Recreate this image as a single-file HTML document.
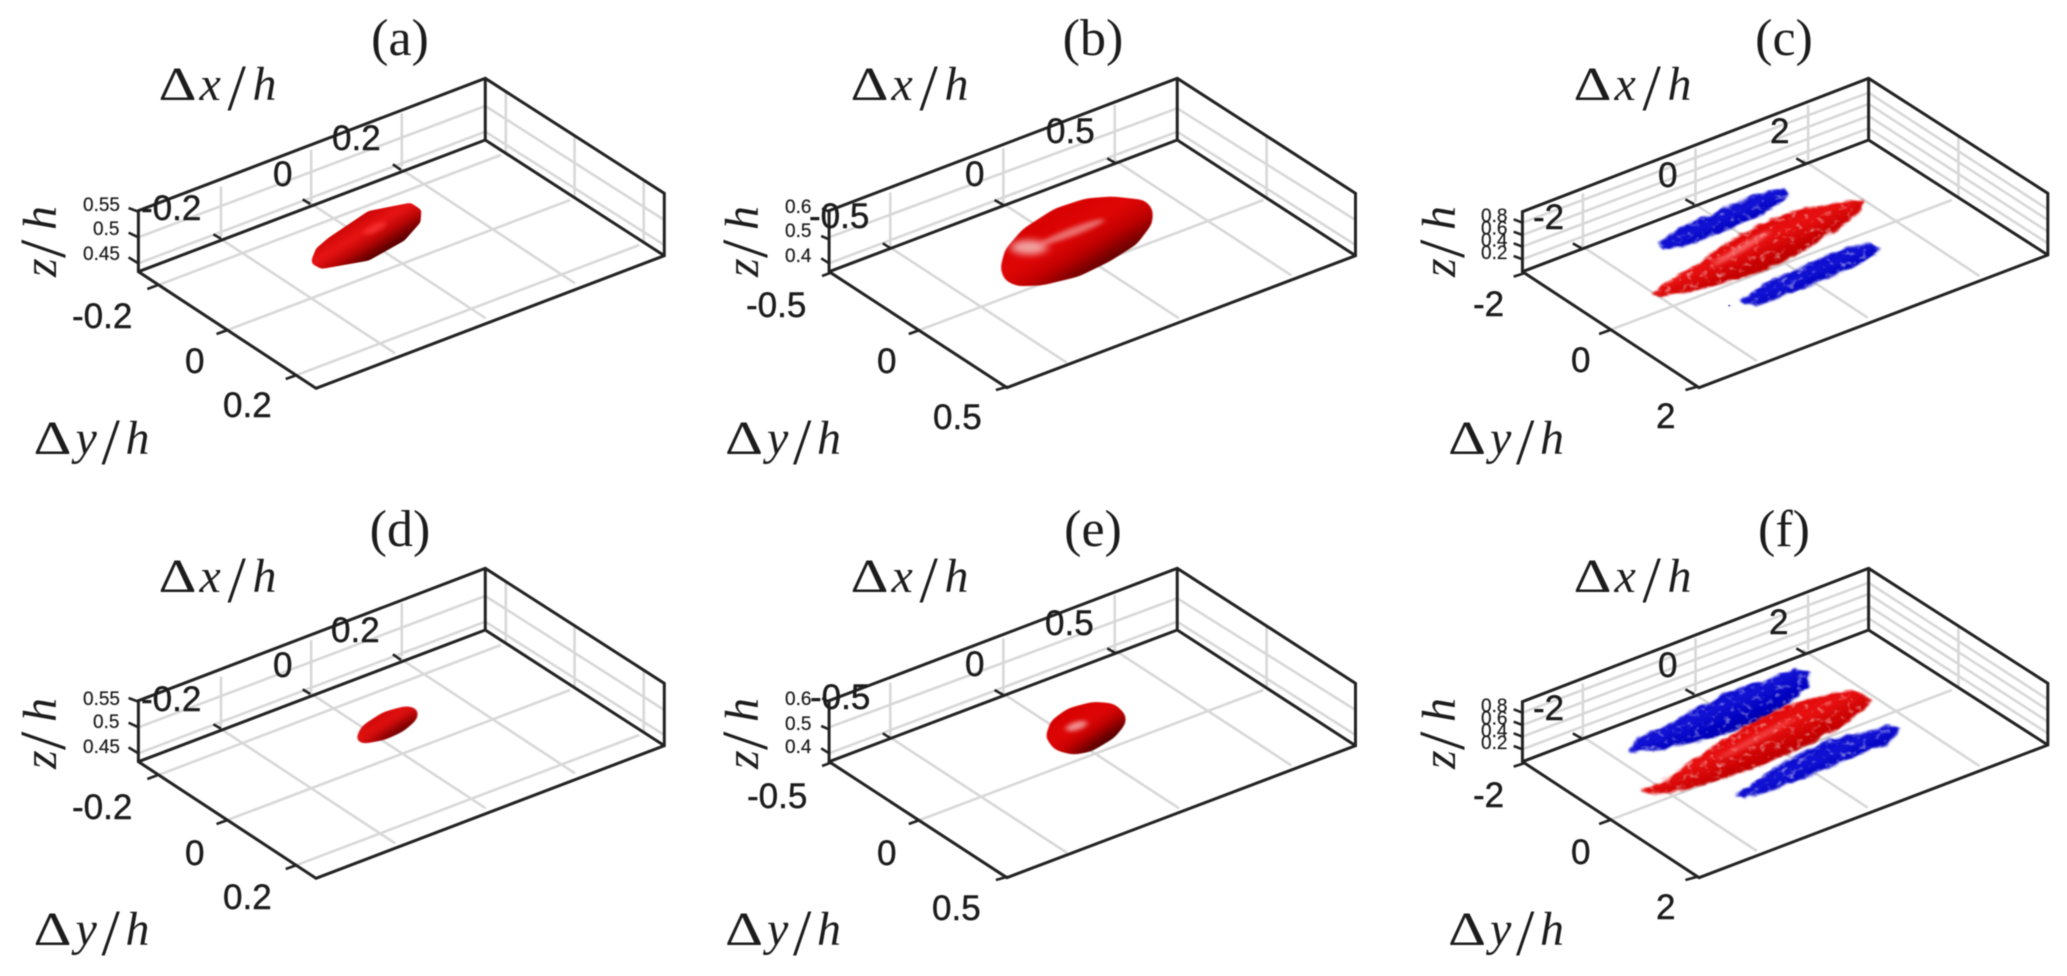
<!DOCTYPE html>
<html>
<head>
<meta charset="utf-8">
<style>
html,body{margin:0;padding:0;background:#fff;}
svg{display:block;filter:blur(0.45px);}
.f{fill:none;stroke:#222;stroke-width:3;vector-effect:non-scaling-stroke;stroke-linejoin:miter;}
.g{fill:none;stroke:#d8d8d8;stroke-width:2.6;vector-effect:non-scaling-stroke;}
.t{fill:none;stroke:#222;stroke-width:2.6;vector-effect:non-scaling-stroke;}
text{fill:#1c1c1c;}
.n{font-family:"Liberation Sans",sans-serif;font-size:35px;stroke:#1c1c1c;stroke-width:.45px;}
.s{font-family:"Liberation Sans",sans-serif;font-size:19px;stroke:#1c1c1c;stroke-width:.2px;}
.c{font-family:"Liberation Serif",serif;font-size:52px;text-anchor:middle;}
.m{font-family:"Liberation Serif",serif;font-size:48px;font-style:italic;}
.m .b{font-size:66px;font-style:normal;}
.d{font-family:"Liberation Serif",serif;font-size:48px;}
</style>
</head>
<body>
<svg width="2067" height="976" viewBox="0 0 2067 976" xmlns="http://www.w3.org/2000/svg">
<defs>
<linearGradient id="r1" x1="0" y1="0" x2="1" y2="1">
<stop offset="0.28" stop-color="#c40000"/><stop offset="0.46" stop-color="#e81414"/><stop offset="0.56" stop-color="#c00606"/><stop offset="0.66" stop-color="#700000"/><stop offset="0.76" stop-color="#300000"/>
</linearGradient>
<linearGradient id="r2" x1="0" y1="0" x2="1" y2="1">
<stop offset="0.2" stop-color="#d40000"/><stop offset="0.45" stop-color="#e00606"/><stop offset="0.58" stop-color="#c00000"/><stop offset="0.68" stop-color="#780000"/><stop offset="0.77" stop-color="#380000"/>
</linearGradient>
<linearGradient id="r3" x1="0" y1="0" x2="1" y2="1">
<stop offset="0.3" stop-color="#d80000"/><stop offset="0.47" stop-color="#e81010"/><stop offset="0.58" stop-color="#c80000"/><stop offset="0.72" stop-color="#a00000"/>
</linearGradient>
<linearGradient id="b3" x1="0" y1="0" x2="1" y2="1">
<stop offset="0.3" stop-color="#0000c8"/><stop offset="0.48" stop-color="#1212d4"/><stop offset="0.6" stop-color="#0000c0"/><stop offset="0.75" stop-color="#00008c"/>
</linearGradient>
<filter id="sm" x="-10%" y="-10%" width="120%" height="120%" color-interpolation-filters="sRGB"><feGaussianBlur stdDeviation="5"/><feComponentTransfer><feFuncA type="linear" slope="5" intercept="-2"/></feComponentTransfer></filter>
<filter id="sm2" x="-15%" y="-15%" width="130%" height="130%" color-interpolation-filters="sRGB"><feGaussianBlur stdDeviation="11"/><feComponentTransfer><feFuncA type="linear" slope="7" intercept="-3"/></feComponentTransfer></filter>
<filter id="rough" x="-10%" y="-10%" width="120%" height="120%" color-interpolation-filters="sRGB">
<feGaussianBlur in="SourceGraphic" stdDeviation="3" result="s"/>
<feTurbulence type="fractalNoise" baseFrequency="0.035" numOctaves="2" seed="4" result="w"/>
<feDisplacementMap in="s" in2="w" scale="16" xChannelSelector="R" yChannelSelector="G" result="d"/>
<feTurbulence type="fractalNoise" baseFrequency="0.06" numOctaves="2" seed="9" result="n"/>
<feColorMatrix in="n" type="matrix" values="0 0 0 0 1  0 0 0 0 1  0 0 0 0 1  1.5 0 0 0 -0.82" result="sp"/>
<feComposite in="sp" in2="d" operator="in" result="spc"/>
<feMerge><feMergeNode in="d"/><feMergeNode in="spc"/></feMerge>
</filter>
<filter id="hl" x="-50%" y="-50%" width="200%" height="200%"><feGaussianBlur stdDeviation="10"/></filter>
<filter id="hs" x="-50%" y="-50%" width="200%" height="200%"><feGaussianBlur stdDeviation="6"/></filter>

<g id="colA">
<path class="g" d="M487 710L885 1060M690 605L1088 955M890 500L1288 850M345 860L1122 465M500 995L1277 600M655 1130L1432 735M495 560V710M697 450V605M900 340V500M310 712L1087 318M310 790L1087 395M1087 318L1488 660M1087 395L1488 735M1133 275V458M1287 408V592M1442 540V725"/>
<path class="t" d="M478 703L495 716M678 598L695 612M880 493L898 510M330 867L352 856M485 1002L510 990M640 1137L665 1125M288 624L310 635M288 698L310 712M288 772L310 790"/>
<path class="f" d="M310 632L1087 235L1488 580V767L708 1165L310 815ZM310 815L1087 420L1488 767M1087 235V420"/>
</g>
<g id="colB">
<path class="g" d="M452 740L856 1088M707 607L1111 955M962 478L1366 826M512 995L1303 600M455 578V740M712 445V607M965 315V478M316 712L1107 325M316 790L1107 395M1107 325L1512 660M1107 395L1512 735M1310 408V592"/>
<path class="t" d="M438 730L456 745M692 600L712 615M948 475L968 490M497 1002L522 990M695 1170L722 1160M300 828L320 818M300 625L316 635M298 708L316 718M298 775L316 790"/>
<path class="f" d="M316 632L1107 235L1512 580V767L720 1163L316 815ZM316 815L1107 420L1512 767M1107 235V420"/>
</g>
<g id="colC">
<path class="g" d="M457 735L860 1083M710 605L1113 953M965 480L1368 828M515 995L1305 600M463 580V735M720 445V605M977 315V480M325 668L1115 278M325 705L1115 312M325 740L1115 348M325 778L1115 385M1115 278L1524 628M1115 312L1524 660M1115 348L1524 695M1115 385L1524 730M1320 410V592"/>
<path class="t" d="M440 730L460 745M697 598L717 613M950 475L970 490M500 1002L525 990M697 1170L725 1160M305 830L328 820M305 658L325 668M305 695L325 705M305 730L325 740M305 768L325 778"/>
<path class="f" d="M325 635L1115 235L1524 580V765L728 1163L325 815ZM325 815L1115 420L1524 765M1115 235V420"/>
</g>
</defs>
<rect width="2067" height="976" fill="#fff"/>

<!-- panel a -->
<g transform="translate(0,0) scale(0.44643,0.33333)">
<use href="#colA"/>
<polygon filter="url(#sm)" fill="url(#r1)" points="698,778 708,745 735,714 825,633 920,608 944,630 942,667 906,722 826,782 720,807 699,792"/>
<ellipse cx="840" cy="685" rx="30" ry="10" fill="#ff3a3a" opacity=".7" filter="url(#hs)" transform="rotate(-35 840 685)"/>
</g>
<!-- panel b -->
<g transform="translate(690,0) scale(0.44014,0.33333)">
<use href="#colB"/>
<polygon filter="url(#sm2)" fill="url(#r2)" points="705,803 716,748 756,687 828,626 899,595 960,589 1034,600 1052,629 1050,672 1015,733 953,785 883,830 801,856 743,859 714,840"/>
<ellipse cx="770" cy="742" rx="42" ry="22" fill="#fff" opacity=".62" filter="url(#hl)"/>
<ellipse cx="870" cy="695" rx="80" ry="12" fill="#fff" opacity=".42" filter="url(#hs)" transform="rotate(-27 870 695)"/>
</g>
<!-- panel c -->
<g transform="translate(1380,0) scale(0.43821,0.33333)">
<use href="#colC"/>
<polygon filter="url(#rough)" fill="url(#b3)" points="638,728 678,685 760,640 830,600 890,570 928,565 935,587 915,607 860,652 790,692 720,727 660,750 645,745"/>
<polygon filter="url(#rough)" fill="url(#b3)" points="820,902 850,875 880,850 960,800 1050,750 1110,730 1142,745 1132,767 1080,802 1000,847 920,887 860,917 835,914"/>
<polygon filter="url(#rough)" fill="url(#r3)" points="618,882 660,845 730,785 800,720 880,665 960,625 1040,608 1102,601 1097,635 1060,672 1000,727 920,787 830,832 750,862 640,890"/>
<ellipse cx="825" cy="745" rx="85" ry="8" fill="#ff9090" opacity=".7" filter="url(#hs)" transform="rotate(-38 825 745)"/>
<rect x="795" y="915" width="4" height="4" fill="#2020d0"/>
</g>
<!-- panel d -->
<g transform="translate(0,490) scale(0.44643,0.33333)">
<use href="#colA"/>
<polygon filter="url(#sm2)" fill="url(#r1)" points="796,748 810,708 858,666 910,647 937,655 935,688 904,724 862,750 808,763"/>
</g>
<!-- panel e -->
<g transform="translate(690,490) scale(0.44014,0.33333)">
<use href="#colB"/>
<polygon filter="url(#sm2)" fill="url(#r2)" points="807,741 820,692 858,655 915,635 964,640 990,673 990,702 964,744 912,785 870,795 828,780"/>
<ellipse cx="878" cy="708" rx="26" ry="12" fill="#fff" opacity=".55" filter="url(#hs)" transform="rotate(-25 878 708)"/>
</g>
<!-- panel f -->
<g transform="translate(1380,490) scale(0.43821,0.33333)">
<use href="#colC"/>
<polygon filter="url(#rough)" fill="url(#b3)" points="566,787 585,745 640,715 720,655 800,605 880,570 945,536 980,545 977,590 920,652 850,702 750,747 650,777"/>
<polygon filter="url(#rough)" fill="url(#b3)" points="810,914 850,880 930,810 1030,745 1120,725 1160,703 1187,715 1162,762 1090,797 1000,847 900,897 830,927"/>
<polygon filter="url(#rough)" fill="url(#r3)" points="598,902 650,870 730,795 830,710 930,645 1030,608 1080,603 1122,628 1102,662 1030,727 950,782 850,837 750,882 640,914 610,910"/>
<ellipse cx="860" cy="745" rx="110" ry="8" fill="#ff8080" opacity=".45" filter="url(#hs)" transform="rotate(-35 860 745)"/>
</g>

<!-- titles -->
<text class="c" x="400" y="55">(a)</text>
<text class="c" x="1093" y="55">(b)</text>
<text class="c" x="1784" y="55">(c)</text>
<text class="c" x="400" y="546">(d)</text>
<text class="c" x="1093" y="546">(e)</text>
<text class="c" x="1784" y="546">(f)</text>

<!-- Δx/h -->
<g transform="translate(158.5,100)"><text class="d" textLength="38" lengthAdjust="spacingAndGlyphs">Δ</text><text class="m"><tspan x="41">x</tspan><tspan class="b" x="69" dy="10">/</tspan><tspan x="94" dy="-10">h</tspan></text></g>
<g transform="translate(850.5,100)"><text class="d" textLength="38" lengthAdjust="spacingAndGlyphs">Δ</text><text class="m"><tspan x="41">x</tspan><tspan class="b" x="69" dy="10">/</tspan><tspan x="94" dy="-10">h</tspan></text></g>
<g transform="translate(1573.5,100)"><text class="d" textLength="38" lengthAdjust="spacingAndGlyphs">Δ</text><text class="m"><tspan x="41">x</tspan><tspan class="b" x="69" dy="10">/</tspan><tspan x="94" dy="-10">h</tspan></text></g>
<g transform="translate(158.5,592)"><text class="d" textLength="38" lengthAdjust="spacingAndGlyphs">Δ</text><text class="m"><tspan x="41">x</tspan><tspan class="b" x="69" dy="10">/</tspan><tspan x="94" dy="-10">h</tspan></text></g>
<g transform="translate(850.5,592)"><text class="d" textLength="38" lengthAdjust="spacingAndGlyphs">Δ</text><text class="m"><tspan x="41">x</tspan><tspan class="b" x="69" dy="10">/</tspan><tspan x="94" dy="-10">h</tspan></text></g>
<g transform="translate(1573.5,592)"><text class="d" textLength="38" lengthAdjust="spacingAndGlyphs">Δ</text><text class="m"><tspan x="41">x</tspan><tspan class="b" x="69" dy="10">/</tspan><tspan x="94" dy="-10">h</tspan></text></g>

<!-- Δy/h -->
<g transform="translate(33.5,454)"><text class="d" textLength="38" lengthAdjust="spacingAndGlyphs">Δ</text><text class="m"><tspan x="42">y</tspan><tspan class="b" x="68" dy="10">/</tspan><tspan x="92" dy="-10">h</tspan></text></g>
<g transform="translate(725,454)"><text class="d" textLength="38" lengthAdjust="spacingAndGlyphs">Δ</text><text class="m"><tspan x="42">y</tspan><tspan class="b" x="68" dy="10">/</tspan><tspan x="92" dy="-10">h</tspan></text></g>
<g transform="translate(1448,454)"><text class="d" textLength="38" lengthAdjust="spacingAndGlyphs">Δ</text><text class="m"><tspan x="42">y</tspan><tspan class="b" x="68" dy="10">/</tspan><tspan x="92" dy="-10">h</tspan></text></g>
<g transform="translate(33.5,945)"><text class="d" textLength="38" lengthAdjust="spacingAndGlyphs">Δ</text><text class="m"><tspan x="42">y</tspan><tspan class="b" x="68" dy="10">/</tspan><tspan x="92" dy="-10">h</tspan></text></g>
<g transform="translate(725,945)"><text class="d" textLength="38" lengthAdjust="spacingAndGlyphs">Δ</text><text class="m"><tspan x="42">y</tspan><tspan class="b" x="68" dy="10">/</tspan><tspan x="92" dy="-10">h</tspan></text></g>
<g transform="translate(1448,945)"><text class="d" textLength="38" lengthAdjust="spacingAndGlyphs">Δ</text><text class="m"><tspan x="42">y</tspan><tspan class="b" x="68" dy="10">/</tspan><tspan x="92" dy="-10">h</tspan></text></g>

<!-- z/h -->
<text class="m" transform="translate(56,277) rotate(-90)"><tspan x="0">z</tspan><tspan class="b" x="19" dy="9">/</tspan><tspan x="47" dy="-9">h</tspan></text>
<text class="m" transform="translate(758,277) rotate(-90)"><tspan x="0">z</tspan><tspan class="b" x="19" dy="9">/</tspan><tspan x="47" dy="-9">h</tspan></text>
<text class="m" transform="translate(1455,277) rotate(-90)"><tspan x="0">z</tspan><tspan class="b" x="19" dy="9">/</tspan><tspan x="47" dy="-9">h</tspan></text>
<text class="m" transform="translate(56,769) rotate(-90)"><tspan x="0">z</tspan><tspan class="b" x="19" dy="9">/</tspan><tspan x="47" dy="-9">h</tspan></text>
<text class="m" transform="translate(758,769) rotate(-90)"><tspan x="0">z</tspan><tspan class="b" x="19" dy="9">/</tspan><tspan x="47" dy="-9">h</tspan></text>
<text class="m" transform="translate(1455,769) rotate(-90)"><tspan x="0">z</tspan><tspan class="b" x="19" dy="9">/</tspan><tspan x="47" dy="-9">h</tspan></text>

<!-- tick labels a -->
<text class="n" x="332" y="150">0.2</text><text class="n" x="273" y="186">0</text><text class="n" x="141" y="220">-0.2</text>
<text class="n" x="72" y="328">-0.2</text><text class="n" x="185" y="373">0</text><text class="n" x="223" y="417">0.2</text>
<text class="s" x="83" y="211">0.55</text><text class="s" x="93" y="235">0.5</text><text class="s" x="83" y="260">0.45</text>
<!-- b -->
<text class="n" x="1046" y="143">0.5</text><text class="n" x="965" y="186">0</text><text class="n" x="809" y="228">-0.5</text>
<text class="n" x="746" y="317">-0.5</text><text class="n" x="877" y="373">0</text><text class="n" x="933" y="429">0.5</text>
<text class="s" x="785" y="213">0.6</text><text class="s" x="785" y="237">0.5</text><text class="s" x="785" y="262">0.4</text>
<!-- c -->
<text class="n" x="1770" y="143">2</text><text class="n" x="1658" y="187">0</text><text class="n" x="1533" y="229">-2</text>
<text class="n" x="1473" y="316">-2</text><text class="n" x="1571" y="372">0</text><text class="n" x="1656" y="428">2</text>
<text class="s" x="1481" y="222">0.8</text><text class="s" x="1481" y="234.5">0.6</text><text class="s" x="1481" y="246.5">0.4</text><text class="s" x="1481" y="259">0.2</text>
<!-- d -->
<text class="n" x="331" y="642">0.2</text><text class="n" x="273" y="677">0</text><text class="n" x="141" y="711">-0.2</text>
<text class="n" x="72" y="819">-0.2</text><text class="n" x="185" y="865">0</text><text class="n" x="223" y="909">0.2</text>
<text class="s" x="83" y="705">0.55</text><text class="s" x="93" y="728">0.5</text><text class="s" x="83" y="753">0.45</text>
<!-- e -->
<text class="n" x="1045" y="635">0.5</text><text class="n" x="965" y="676">0</text><text class="n" x="810" y="709">-0.5</text>
<text class="n" x="747" y="808">-0.5</text><text class="n" x="877" y="865">0</text><text class="n" x="932" y="920">0.5</text>
<text class="s" x="785" y="705">0.6</text><text class="s" x="785" y="730">0.5</text><text class="s" x="785" y="753">0.4</text>
<!-- f -->
<text class="n" x="1769" y="634">2</text><text class="n" x="1658" y="677">0</text><text class="n" x="1533" y="720">-2</text>
<text class="n" x="1473" y="807">-2</text><text class="n" x="1571" y="864">0</text><text class="n" x="1656" y="919">2</text>
<text class="s" x="1481" y="712">0.8</text><text class="s" x="1481" y="724.5">0.6</text><text class="s" x="1481" y="737">0.4</text><text class="s" x="1481" y="749">0.2</text>
</svg>
</body>
</html>
